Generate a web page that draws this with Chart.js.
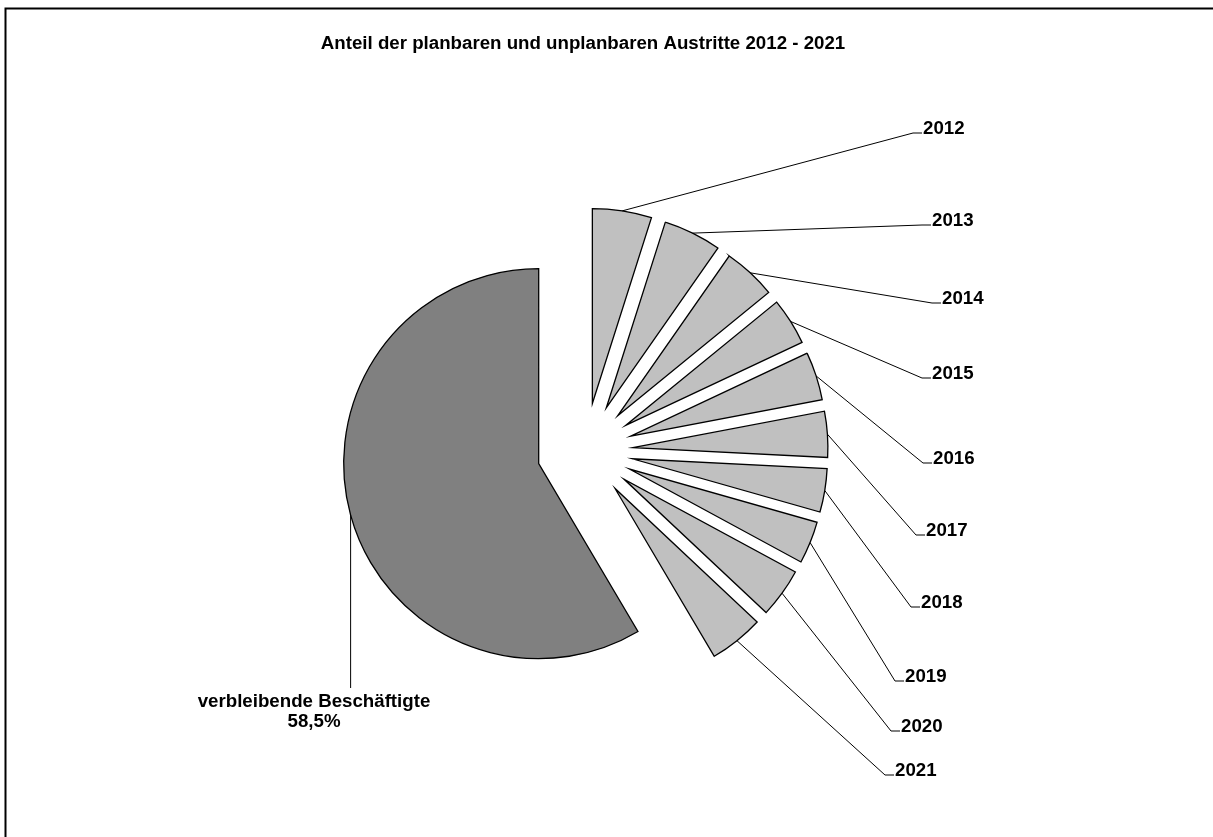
<!DOCTYPE html>
<html><head><meta charset="utf-8">
<script src="https://cdn.jsdelivr.net/npm/chart.js@4.4.1/dist/chart.umd.min.js"></script>
<style>html,body{margin:0;padding:0;background:#fff}#wrap{width:1213px;height:837px;position:relative}</style>
</head><body><div id="wrap"><canvas id="c" width="1213" height="837"></canvas></div>
<script>
// ---- data ----
const chartTitle = 'Anteil der planbaren und unplanbaren Austritte 2012 - 2021';
const years = ['2012','2013','2014','2015','2016','2017','2018','2019','2020','2021'];
const yearShares = [4.9, 4.8, 4.4, 3.9, 4.0, 3.8, 3.6, 3.5, 4.1, 4.5];
const remainingLabel = 'verbleibende Beschäftigte';
const remainingShare = 58.5;

// ---- layout / style ----
const FONT = 'bold 18.7px "Liberation Sans", Arial, sans-serif';
const RADIUS = 195;
const EXPLODE = 48;
// leader-line end points relative to the pie centre
const labelAnchors = [
  [328,-318],[337,-226],[347,-148],[337,-73],[338,12],
  [331,84],[326,156],[310,230],[306,280],[300,324]
];

const labels = [...years, remainingLabel];
const values = [...yearShares, remainingShare];
const colors = [...years.map(() => '#c0c0c0'), '#808080'];

const explodePlugin = {
  id: 'explode',
  afterDatasetsUpdate(chart) {
    chart.getDatasetMeta(0).data.forEach(arc => {
      const a = (arc.startAngle + arc.endAngle) / 2;
      arc.x += Math.cos(a) * EXPLODE;
      arc.y += Math.sin(a) * EXPLODE;
    });
  }
};

const decoPlugin = {
  id: 'deco',
  afterDraw(chart) {
    const ctx = chart.ctx;
    const area = chart.chartArea;
    const cx = (area.left + area.right) / 2, cy = (area.top + area.bottom) / 2;
    ctx.save();
    // frame
    ctx.strokeStyle = '#000'; ctx.lineWidth = 2;
    ctx.beginPath(); ctx.moveTo(5.5, 837); ctx.lineTo(5.5, 8.5); ctx.lineTo(1213, 8.5); ctx.stroke();
    // title
    ctx.fillStyle = '#000'; ctx.font = FONT; ctx.textAlign = 'center'; ctx.textBaseline = 'alphabetic';
    ctx.fillText(chartTitle, cx - 2, 49);
    // labels + leader lines
    ctx.lineWidth = 1; ctx.strokeStyle = '#000';
    const arcs = chart.getDatasetMeta(0).data;
    arcs.forEach((arc, i) => {
      const a = (arc.startAngle + arc.endAngle) / 2;
      const px = arc.x + Math.cos(a) * arc.outerRadius;
      const py = arc.y + Math.sin(a) * arc.outerRadius;
      if (i < years.length) {
        const ex = cx + labelAnchors[i][0], ey = cy + labelAnchors[i][1];
        ctx.beginPath(); ctx.moveTo(px, py); ctx.lineTo(ex, ey); ctx.lineTo(ex + 9, ey); ctx.stroke();
        ctx.textAlign = 'left';
        ctx.fillText(labels[i], ex + 10, ey + 1);
      } else {
        const ey = cy + 237;
        ctx.beginPath(); ctx.moveTo(px, py); ctx.lineTo(px, ey); ctx.stroke();
        ctx.textAlign = 'center';
        ctx.fillText(labels[i], cx - 271, cy + 256);
        const pct = values[i].toLocaleString('de-DE', {minimumFractionDigits: 1, maximumFractionDigits: 1}) + '%';
        ctx.fillText(pct, cx - 271, cy + 276);
      }
    });
    ctx.restore();
  }
};

new Chart(document.getElementById('c'), {
  type: 'pie',
  data: {
    labels: labels,
    datasets: [{
      data: values,
      backgroundColor: colors,
      borderColor: '#000',
      borderWidth: 1.3,
      borderJoinStyle: 'miter'
    }]
  },
  options: {
    responsive: false,
    devicePixelRatio: 1,
    animation: false,
    radius: RADIUS,
    layout: { padding: { left: 0, right: 43, top: 65, bottom: 0 } },
    plugins: { legend: { display: false }, tooltip: { enabled: false }, title: { display: false } }
  },
  plugins: [explodePlugin, decoPlugin]
});
</script>
</body></html>
